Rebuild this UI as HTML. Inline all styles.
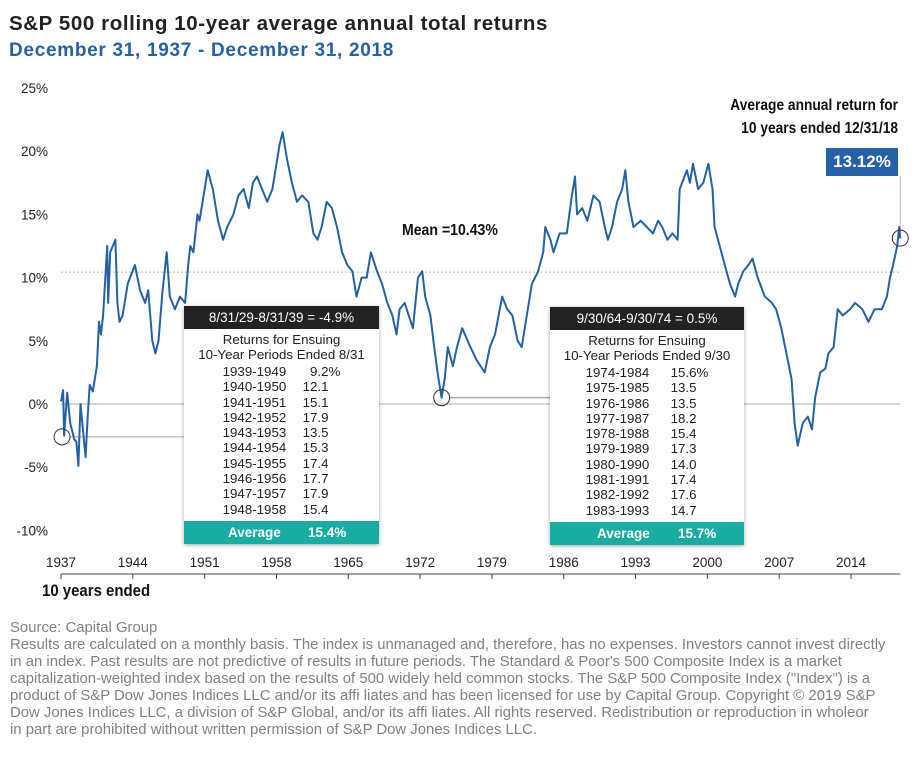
<!DOCTYPE html>
<html><head><meta charset="utf-8"><style>
body{margin:0;background:#fff;width:916px;height:764px;overflow:hidden;font-family:"Liberation Sans",sans-serif;position:relative}
.t{position:absolute;white-space:nowrap}
.box{position:absolute;background:#fff;box-shadow:0 1px 4px rgba(0,0,0,.35);font-size:13px;color:#222;overflow:hidden}
.box .hd{background:#222;color:#fff;text-align:center;height:23px;line-height:23px;font-size:13.5px}
.box .sub{text-align:center;line-height:14.5px;margin-top:4px;font-size:13.3px}
.box table{border-collapse:collapse;margin:2px auto 0 auto}
.box td{padding:0;line-height:15.3px;font-size:13.3px}
.box .avg{position:absolute;left:0;right:0;bottom:0;height:23px;background:#19aca3;color:#fff;font-weight:bold;font-size:13.5px;line-height:23px}
.foot{position:absolute;left:10px;top:620px;color:#808080;font-size:14.9px;line-height:17px;white-space:nowrap}
</style></head><body>
<div class="t" style="left:9px;top:12px;font-size:20.5px;letter-spacing:0.6px;font-weight:bold;color:#222">S&amp;P 500 rolling 10-year average annual total returns</div>
<div class="t" style="left:9px;top:40px;font-size:19px;letter-spacing:0.7px;font-weight:bold;color:#2461a6">December 31, 1937 - December 31, 2018</div>

<svg id="chart" width="916" height="620" style="position:absolute;left:0;top:0"></svg>

<div class="t" style="left:402px;top:222px;font-size:16px;font-weight:bold;color:#111;transform:scaleX(.88);transform-origin:left">Mean =10.43%</div>
<div class="t" style="right:18px;top:94px;font-size:16px;font-weight:bold;color:#111;text-align:right;line-height:23px;transform:scaleX(.86);transform-origin:right">Average annual return for<br>10 years ended 12/31/18</div>
<div class="t" style="left:826px;top:148px;width:72px;height:28px;background:#2461a6;color:#fff;font-weight:bold;font-size:17px;line-height:28px;text-align:center">13.12%</div>
<div class="t" style="left:42px;top:581px;font-size:17px;font-weight:bold;color:#111;transform:scaleX(.88);transform-origin:left">10 years ended</div>

<div class="box" style="left:184px;top:306px;width:195px;height:238px">
<div class="hd">8/31/29-8/31/39 = -4.9%</div>
<div class="sub">Returns for Ensuing<br>10-Year Periods Ended 8/31</div>
<table><tbody>
<tr><td style="width:80px">1939-1949</td><td>&nbsp;&nbsp;9.2%</td></tr>
<tr><td>1940-1950</td><td>12.1</td></tr><tr><td>1941-1951</td><td>15.1</td></tr>
<tr><td>1942-1952</td><td>17.9</td></tr><tr><td>1943-1953</td><td>13.5</td></tr>
<tr><td>1944-1954</td><td>15.3</td></tr><tr><td>1945-1955</td><td>17.4</td></tr>
<tr><td>1946-1956</td><td>17.7</td></tr><tr><td>1947-1957</td><td>17.9</td></tr>
<tr><td>1948-1958</td><td>15.4</td></tr></tbody></table>
<div class="avg"><span style="position:absolute;left:44px">Average</span><span style="position:absolute;left:124px">15.4%</span></div>
</div>

<div class="box" style="left:550px;top:307px;width:194px;height:238px">
<div class="hd">9/30/64-9/30/74 = 0.5%</div>
<div class="sub">Returns for Ensuing<br>10-Year Periods Ended 9/30</div>
<table><tbody>
<tr><td style="width:85px">1974-1984</td><td>15.6%</td></tr>
<tr><td>1975-1985</td><td>13.5</td></tr><tr><td>1976-1986</td><td>13.5</td></tr>
<tr><td>1977-1987</td><td>18.2</td></tr><tr><td>1978-1988</td><td>15.4</td></tr>
<tr><td>1979-1989</td><td>17.3</td></tr><tr><td>1980-1990</td><td>14.0</td></tr>
<tr><td>1981-1991</td><td>17.4</td></tr><tr><td>1982-1992</td><td>17.6</td></tr>
<tr><td>1983-1993</td><td>14.7</td></tr></tbody></table>
<div class="avg"><span style="position:absolute;left:47px">Average</span><span style="position:absolute;left:128px">15.7%</span></div>
</div>

<div class="foot">Source: Capital Group<br>Results are calculated on a monthly basis. The index is unmanaged and, therefore, has no expenses. Investors cannot invest directly<br>in an index. Past results are not predictive of results in future periods. The Standard &amp; Poor's 500 Composite Index is a market<br>capitalization-weighted index based on the results of 500 widely held common stocks. The S&amp;P 500 Composite Index ("Index") is a<br>product of S&amp;P Dow Jones Indices LLC and/or its affi liates and has been licensed for use by Capital Group. Copyright © 2019 S&amp;P<br>Dow Jones Indices LLC, a division of S&amp;P Global, and/or its affi liates. All rights reserved. Redistribution or reproduction in wholeor<br>in part are prohibited without written permission of S&amp;P Dow Jones Indices LLC.</div>

<script>
const years=[1937.0,1937.2,1937.3,1937.6,1937.9,1938.3,1938.5,1938.7,1938.9,1939.4,1939.6,1939.8,1940.1,1940.5,1940.7,1940.9,1941.1,1941.5,1941.6,1941.8,1942.3,1942.5,1942.7,1943.0,1943.5,1944.2,1944.7,1945.2,1945.5,1945.9,1946.2,1946.5,1946.9,1947.3,1947.6,1948.1,1948.6,1949.1,1949.4,1949.6,1949.9,1950.3,1950.5,1950.8,1951.3,1951.8,1952.3,1952.8,1953.2,1953.8,1954.3,1954.8,1955.3,1955.7,1956.1,1956.6,1957.1,1957.6,1958.1,1958.3,1958.6,1959.0,1959.5,1960.0,1960.5,1961.1,1961.6,1962.0,1962.4,1962.9,1963.4,1963.9,1964.4,1964.9,1965.4,1965.8,1966.3,1966.8,1967.2,1967.8,1968.3,1968.8,1969.3,1969.7,1970.0,1970.5,1971.3,1971.8,1972.2,1972.5,1973.0,1973.3,1973.7,1974.1,1974.4,1974.7,1975.2,1975.6,1976.1,1976.9,1977.5,1978.3,1978.8,1979.3,1980.0,1980.5,1981.0,1981.5,1981.9,1982.4,1982.9,1983.5,1984.0,1984.2,1984.7,1985.0,1985.6,1986.3,1986.8,1987.1,1987.3,1987.8,1988.3,1988.9,1989.5,1990.0,1990.3,1990.7,1991.2,1991.7,1992.0,1992.3,1992.8,1993.5,1994.1,1994.7,1995.2,1995.6,1996.1,1996.6,1997.1,1997.3,1998.0,1998.3,1998.6,1999.1,1999.6,2000.1,2000.5,2000.7,2001.2,2001.7,2002.2,2002.7,2003.0,2003.5,2004.0,2004.4,2004.9,2005.6,2006.3,2006.7,2007.2,2007.7,2008.2,2008.5,2008.8,2009.3,2009.8,2010.2,2010.5,2011.0,2011.5,2011.8,2012.3,2012.7,2013.2,2013.9,2014.4,2015.1,2015.7,2016.3,2017.0,2017.5,2017.8,2018.1,2018.5,2018.7,2018.8];
const returns=[0.2,1.1,-2.5,0.9,-1.5,-2.8,-3.0,-4.9,0.0,-4.2,-1.0,1.5,1.0,3.0,6.5,5.5,7.0,12.5,8.0,12.0,13.0,8.0,6.5,7.0,9.5,11.0,9.0,8.0,9.0,5.0,4.0,5.0,9.0,12.0,8.5,7.5,8.5,8.0,11.0,12.5,12.0,15.0,14.5,16.0,18.5,17.0,14.5,13.0,14.0,15.0,16.5,17.0,15.5,17.5,18.0,17.0,16.0,17.0,19.5,20.5,21.5,19.5,17.5,16.0,16.5,16.0,13.5,13.0,14.0,16.0,15.5,14.0,12.0,11.0,10.5,8.5,10.0,10.0,12.0,10.5,9.5,8.0,7.0,5.5,7.5,8.0,6.0,10.0,10.5,8.5,7.0,5.0,2.5,0.5,2.0,4.5,3.0,4.5,6.0,4.5,3.5,2.5,4.5,5.5,8.5,7.5,7.0,5.0,4.5,7.0,9.5,10.5,12.0,14.0,13.0,12.0,13.5,13.5,16.5,18.0,15.0,15.5,14.5,16.5,16.0,14.0,13.0,14.0,16.0,17.0,18.5,16.0,14.0,14.5,14.0,13.5,14.5,14.0,13.0,13.5,13.0,17.0,18.5,17.5,19.0,17.0,17.5,19.0,17.0,14.0,12.5,11.0,9.5,8.5,9.5,10.5,11.0,11.5,10.0,8.5,8.0,7.5,6.0,4.0,2.0,-1.5,-3.3,-1.5,-1.0,-2.0,0.5,2.5,2.8,4.0,4.5,7.5,7.0,7.5,8.0,7.5,6.5,7.5,7.5,8.5,10.0,11.0,12.5,14.0,13.1];
const yTicks=[25,20,15,10,5,0,-5,-10];
const xTicks=[1937,1944,1951,1958,1965,1972,1979,1986,1993,2000,2007,2014];
const meanValue=10.43;
const lows=[[1937.1,-2.6],[1974.1,0.5]];
const latest=[2018.8,13.12];

const NS='http://www.w3.org/2000/svg';
const svg=document.getElementById('chart');
const X=y=>61+(y-1937)*10.26;
const Y=v=>404-12.64*v;
function mk(t,a,parent){const e=document.createElementNS(NS,t);for(const k in a)e.setAttribute(k,a[k]);(parent||svg).appendChild(e);return e;}

yTicks.forEach(v=>{
  const t=mk('text',{x:48,y:Y(v)+5,'text-anchor':'end','font-size':13.5,fill:'#222','font-family':'Liberation Sans'});
  t.textContent=v+'%';
  
  
});
const zl=mk('line',{x1:X(1937),x2:X(2018.8),y1:Y(0),y2:Y(0),stroke:'#c8c8c8','stroke-width':1.5});


const ml=mk('line',{x1:X(1937),x2:X(2018.8),y1:Y(meanValue),y2:Y(meanValue),stroke:'#bbb','stroke-width':1,'stroke-dasharray':'2,2'});


const c1=mk('line',{x1:X(lows[0][0])+8,x2:186,y1:Y(lows[0][1]),y2:Y(lows[0][1]),stroke:'#aaa','stroke-width':1});


const c2=mk('line',{x1:X(lows[1][0])+8,x2:551,y1:Y(lows[1][1]),y2:Y(lows[1][1]),stroke:'#aaa','stroke-width':1.5});


const c3=mk('line',{x1:X(latest[0]),x2:X(latest[0]),y1:176,y2:Y(latest[1])-8,stroke:'#bbb','stroke-width':1});



const pts=years.map((y,i)=>X(y).toFixed(1)+','+Y(returns[i]).toFixed(1)).join(' ');
const pl=mk('polyline',{points:pts,fill:'none',stroke:'#2461a6','stroke-width':2,'stroke-linejoin':'round'});



lows.concat([latest]).forEach(p=>{
  const c=mk('circle',{cx:X(p[0]),cy:Y(p[1]),r:8,fill:'none',stroke:'#333','stroke-width':1});
  
  
});

const ax=mk('line',{x1:X(1937),x2:X(2018.8),y1:574,y2:574,stroke:'#444','stroke-width':1});


xTicks.forEach(y=>{
  const tk=mk('line',{x1:X(y),x2:X(y),y1:574,y2:579,stroke:'#444','stroke-width':1});
  
  
  const t=mk('text',{x:X(y),y:567,'text-anchor':'middle','font-size':13.5,fill:'#222','font-family':'Liberation Sans'});
  t.textContent=y;
  
  
});
</script>
</body></html>
